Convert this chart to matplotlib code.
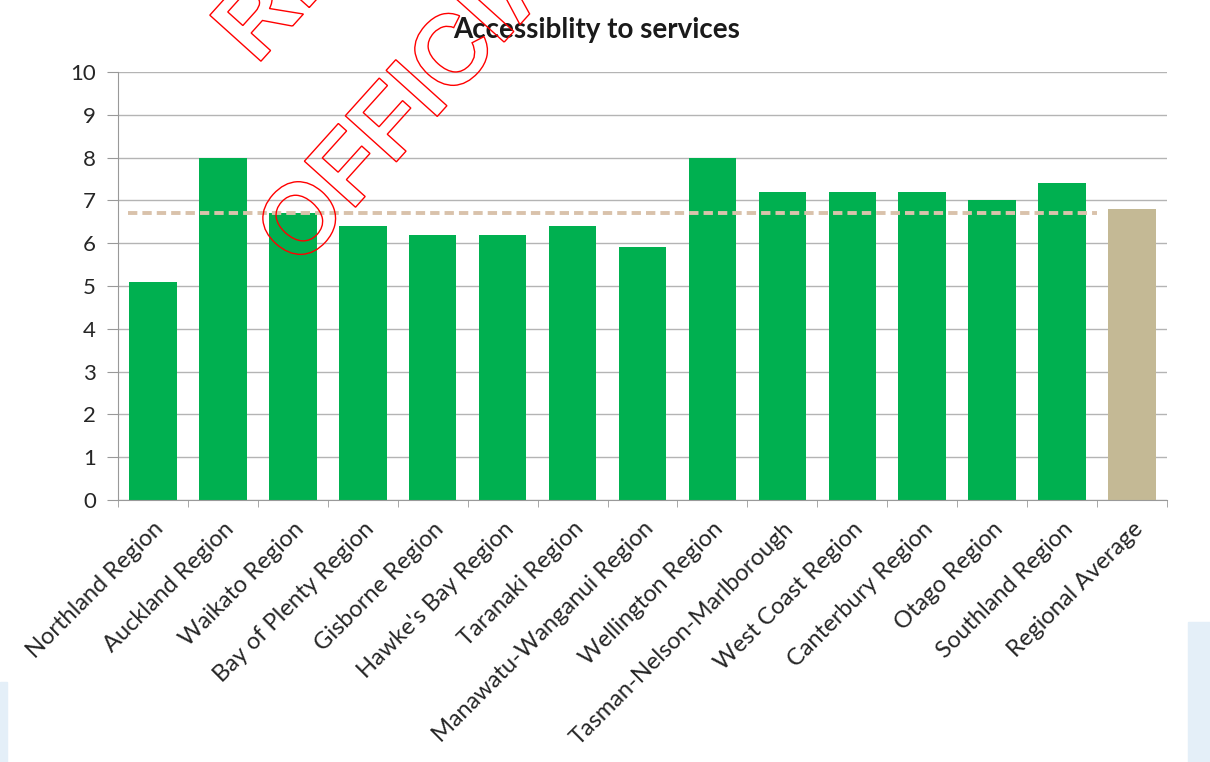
import matplotlib.pyplot as plt
from matplotlib.textpath import TextPath
from matplotlib.patches import PathPatch, Rectangle
from matplotlib.font_manager import FontProperties
from matplotlib.transforms import Affine2D

regions = ["Northland Region", "Auckland Region", "Waikato Region", "Bay of Plenty Region",
           "Gisborne Region", "Hawke's Bay Region", "Taranaki Region", "Manawatu-Wanganui Region",
           "Wellington Region", "Tasman-Nelson-Marlborough", "West Coast Region",
           "Canterbury Region", "Otago Region", "Southland Region", "Regional Average"]
scores = [5.1, 8.0, 6.7, 6.4, 6.2, 6.2, 6.4, 5.9, 8.0, 7.2, 7.2, 7.2, 7.0, 7.4, 6.8]
avg_line = 6.7

plt.rcParams['font.family'] = ['Lato', 'DejaVu Sans']

fig = plt.figure(figsize=(12.1, 7.62), dpi=100)
ax = fig.add_axes([0.0975, 0.3438, 0.867, 0.5617])

x = list(range(len(regions)))
colors = ['#00b050'] * (len(regions) - 1) + ['#c4b995']
ax.bar(x, scores, width=0.68, color=colors, zorder=2)

ax.plot([-0.36, 13.5], [avg_line, avg_line], color='#d9c2ab', lw=2.8,
        dashes=(2.4, 1.3), zorder=3)

ax.set_xlim(-0.5, len(regions) - 0.5)
ax.set_ylim(0, 10)
ax.set_yticks(range(0, 11))
ax.yaxis.grid(True, color='#b4b4b4', lw=1)
ax.set_axisbelow(True)

ax.set_xticks(x)
ax.set_xticklabels(regions, rotation=45, ha='right', rotation_mode='anchor',
                   fontsize=17, color='#262626')
ax.set_xticks([i - 0.5 for i in range(len(regions) + 1)], minor=True)
ax.tick_params(axis='x', which='major', length=0, pad=13)
ax.tick_params(axis='x', which='minor', length=5, color='#999999')
ax.tick_params(axis='y', length=8, color='#999999', labelsize=16, labelcolor='#262626', pad=8)

for s in ['top', 'right']:
    ax.spines[s].set_visible(False)
ax.spines['left'].set_color('#999999')
ax.spines['bottom'].set_color('#999999')

fig.text(0.493, 0.961, "Accessiblity to services", ha='center', va='center',
         fontsize=20, fontweight='bold', color='#1a1a1a')

# faint decoration at edges
fig.add_artist(Rectangle((1188, 0), 22, 140, transform=None, color='#e4eff8', zorder=0))
fig.add_artist(Rectangle((0, 0), 7, 80, transform=None, color='#e4eff8', zorder=0))

# watermark outline text
fp = FontProperties(family='Liberation Sans', weight='bold')
lines = [("OFFICIAL INFORMATION ACT", 0, 0), ("RELEASED UNDER THE", 123, 168)]
for txt, along, up in lines:
    tp = TextPath((along, up), txt, size=100, prop=fp)
    tr = Affine2D().rotate_deg(48).translate(299, 762 - 270)
    fig.add_artist(PathPatch(tp, transform=tr, facecolor='none', edgecolor='red',
                             lw=1, zorder=10))

fig.savefig('out.png', dpi=100)
